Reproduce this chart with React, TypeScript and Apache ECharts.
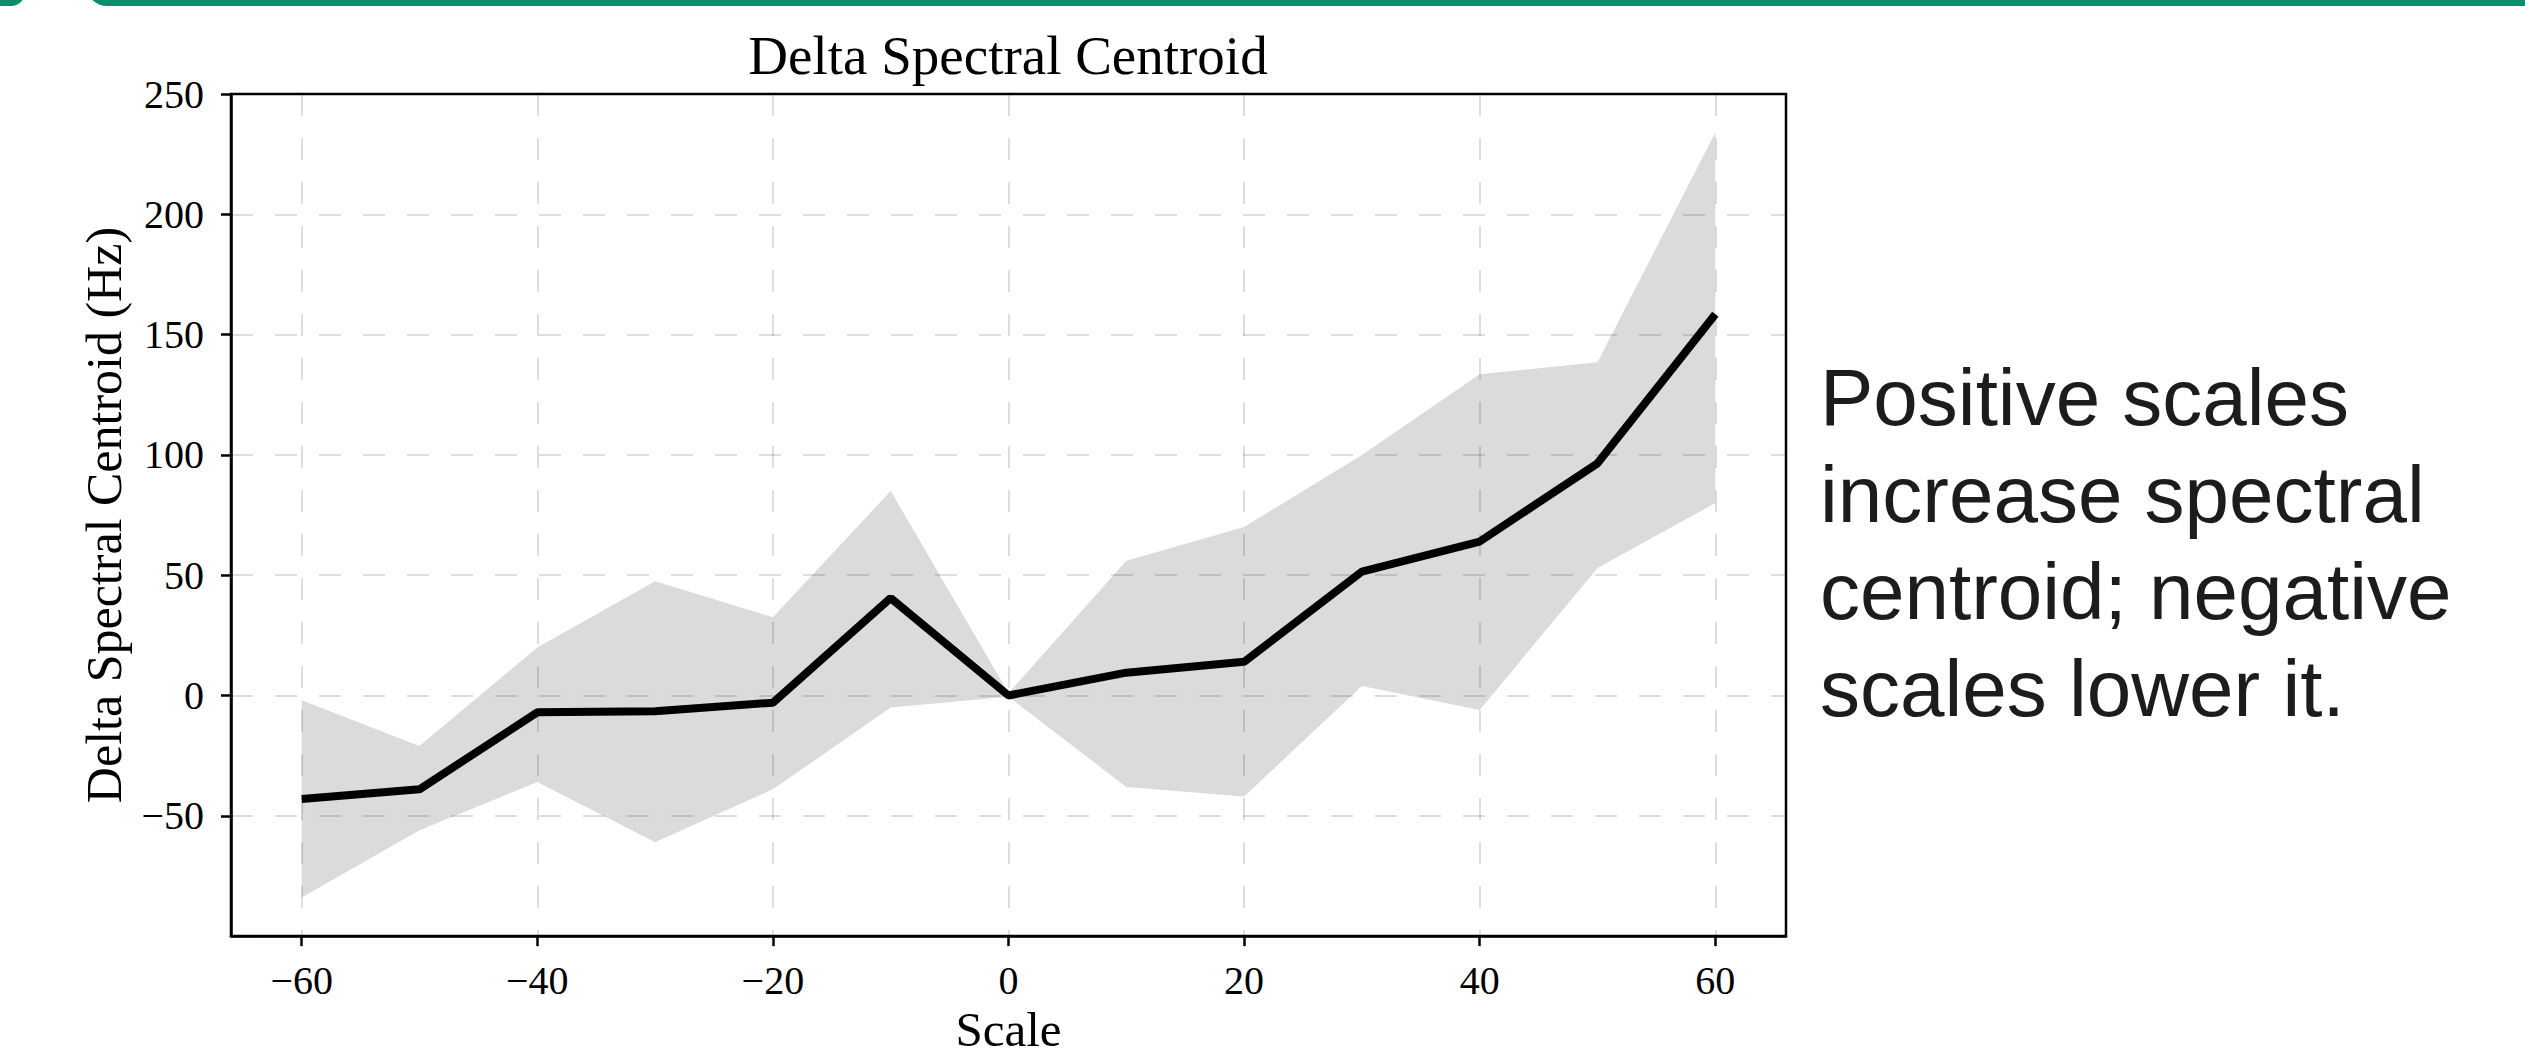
import React, { useEffect, useRef } from 'react';
import * as echarts from 'echarts';

const scales = [-60, -50, -40, -30, -20, -10, 0, 10, 20, 30, 40, 50, 60];
const meanDelta = [-43, -39, -7, -6.5, -3, 40.5, 0, 9.5, 14, 51.5, 64, 96.5, 158.5];
const upperDelta = [-2, -21, 20, 47.5, 32.5, 85, 1, 56, 70, 100, 133.5, 138.5, 234];
const lowerDelta = [-84, -56, -36, -61, -39, -5, -0.5, -38, -42, 4, -6, 53, 80];
const xTicks = [-60, -40, -20, 0, 20, 40, 60];
const yTicks = [-50, 0, 50, 100, 150, 200, 250];
const titleText = 'Delta Spectral Centroid';
const xName = 'Scale';
const yName = 'Delta Spectral Centroid (Hz)';
const noteLines = ['Positive scales', 'increase spectral', 'centroid; negative', 'scales lower it.'];

const SERIF = '"Liberation Serif", "Times New Roman", serif';
const SANS = '"Liberation Sans", Arial, Helvetica, sans-serif';

export default function App() {
  const ref = useRef<HTMLDivElement>(null);

  useEffect(() => {
    if (!ref.current) return;
    const chart = echarts.init(ref.current, null, { renderer: 'svg' });
    const minus = (v: number) => String(v).replace('-', '\u2212');
    const meanPts = scales.map((x, i) => [x, meanDelta[i]]);
    const bandItems = scales.map((x, i) => [x, lowerDelta[i], upperDelta[i]]);
    const gridLine = { color: 'rgba(0,0,0,0.13)', width: 2, type: [22, 22] as any };

    chart.setOption({
      animation: false,
      backgroundColor: '#ffffff',
      title: {
        text: titleText,
        left: 1008,
        top: 28,
        padding: 0,
        textAlign: 'center',
        textStyle: { fontFamily: SERIF, fontSize: 55, fontWeight: 'normal', color: '#000' },
      },
      grid: {
        left: 231,
        top: 94,
        right: 739,
        bottom: 120,
        show: true,
        borderColor: '#000',
        borderWidth: 2.5,
        backgroundColor: 'transparent',
      },
      xAxis: {
        type: 'value',
        min: -66,
        max: 66,
        z: 2,
        name: xName,
        nameLocation: 'middle',
        nameGap: 66,
        nameTextStyle: { fontFamily: SERIF, fontSize: 49, color: '#000' },
        axisLine: { show: true, onZero: false, lineStyle: { color: '#000', width: 2.5 } },
        axisTick: { show: true, length: 10, lineStyle: { color: '#000', width: 2.5 }, customValues: xTicks },
        axisLabel: {
          customValues: xTicks,
          margin: 24,
          fontFamily: SERIF,
          fontSize: 40,
          color: '#000',
          formatter: (v: number) => minus(v),
        },
        splitLine: { show: true, lineStyle: gridLine },
      },
      yAxis: {
        type: 'value',
        min: -100,
        max: 250,
        interval: 50,
        z: 2,
        name: yName,
        nameLocation: 'middle',
        nameGap: 102,
        nameTextStyle: { fontFamily: SERIF, fontSize: 50, color: '#000' },
        axisLine: { show: true, onZero: false, lineStyle: { color: '#000', width: 2.5 } },
        axisTick: { show: true, length: 10, lineStyle: { color: '#000', width: 2.5 }, customValues: yTicks },
        axisLabel: {
          customValues: yTicks,
          margin: 27,
          fontFamily: SERIF,
          fontSize: 40,
          color: '#000',
          formatter: (v: number) => minus(v),
        },
        splitLine: { show: true, lineStyle: gridLine },
      },
      series: [
        {
          type: 'custom',
          name: 'band',
          z: 1,
          silent: true,
          data: bandItems,
          encode: { x: 0, y: [1, 2] },
          renderItem: (params: any, api: any) => {
            if (params.dataIndex !== 0) return null;
            const upperPts = scales.map((x, i) => api.coord([x, upperDelta[i]]));
            const lowerPts = scales.map((x, i) => api.coord([x, lowerDelta[i]])).reverse();
            return {
              type: 'polygon',
              shape: { points: upperPts.concat(lowerPts) },
              style: { fill: '#dbdbdb', stroke: 'none' },
            };
          },
        },
        {
          type: 'line',
          name: 'mean',
          data: meanPts,
          symbol: 'none',
          z: 3,
          lineStyle: { color: '#000', width: 8 },
        },
      ],
      graphic: [
        {
          type: 'rect',
          shape: { x: 87, y: -40, width: 2500, height: 46, r: 20 },
          style: { fill: '#098e68' },
        },
        {
          type: 'rect',
          shape: { x: -60, y: -40, width: 85, height: 46, r: 14 },
          style: { fill: '#098e68' },
        },
        {
          type: 'text',
          x: 1820,
          y: 349,
          style: {
            text: noteLines.join('\n'),
            fontFamily: SANS,
            fontSize: 80,
            lineHeight: 97,
            fill: '#1c1c1e',
            verticalAlign: 'top',
            align: 'left',
          },
        },
      ],
    });

    return () => chart.dispose();
  }, []);

  return (
    <div
      ref={ref}
      style={{ position: 'fixed', left: 0, top: 0, width: 2525, height: 1059, background: '#fff' }}
    />
  );
}
